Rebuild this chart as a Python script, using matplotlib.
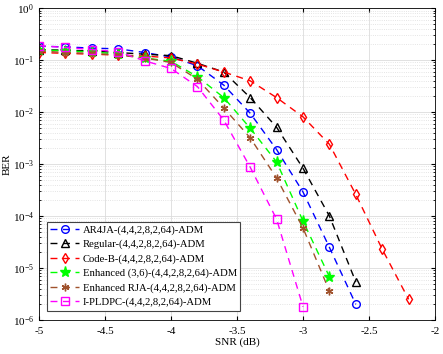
import numpy as np
import matplotlib
matplotlib.use("Agg")
import matplotlib.pyplot as plt
from matplotlib.ticker import NullFormatter

plt.rcParams["font.family"] = ["Liberation Serif", "DejaVu Serif"]
plt.rcParams["mathtext.fontset"] = "stix"
plt.rcParams["axes.unicode_minus"] = False

# SNR points (dB), step 0.2
snr = np.round(np.arange(-5.0, -2.19, 0.2), 1)

ar4ja = [0.185, 0.18, 0.17, 0.165, 0.14, 0.115, 0.078, 0.033, 0.0095, 0.0019, 2.9e-4, 2.5e-5, 2.0e-6]
regular = [0.16, 0.155, 0.15, 0.14, 0.13, 0.122, 0.087, 0.059, 0.019, 0.0051, 8.3e-4, 1.0e-4, 5.4e-6]
code_b = [0.14, 0.135, 0.13, 0.125, 0.12, 0.11, 0.084, 0.059, 0.04, 0.019, 0.0081, 0.0024, 2.6e-4, 2.3e-5, 2.5e-6]
enh36 = [0.16, 0.15, 0.145, 0.13, 0.11, 0.095, 0.048, 0.019, 0.0049, 0.0011, 8.0e-5, 6.8e-6]
enh_rja = [0.15, 0.14, 0.135, 0.125, 0.11, 0.09, 0.043, 0.012, 0.0032, 5.4e-4, 5.9e-5, 3.6e-6]
ipldpc = [0.19, 0.175, 0.16, 0.145, 0.097, 0.069, 0.031, 0.007, 8.7e-4, 8.7e-5, 1.8e-6]

series = [
    ("AR4JA-(4,4,2,8,2,64)-ADM", ar4ja, "blue", "o", "none"),
    ("Regular-(4,4,2,8,2,64)-ADM", regular, "black", "^", "none"),
    ("Code-B-(4,4,2,8,2,64)-ADM", code_b, "red", "d", "none"),
    ("Enhanced (3,6)-(4,4,2,8,2,64)-ADM", enh36, "#00ff00", "*", "#00ff00"),
    ("Enhanced RJA-(4,4,2,8,2,64)-ADM", enh_rja, "#a0522d", (6, 2, 0), "#a0522d"),
    ("I-PLDPC-(4,4,2,8,2,64)-ADM", ipldpc, "magenta", "s", "none"),
]

fig = plt.figure(figsize=(4.43, 3.54), dpi=100)
ax = fig.add_axes([0.088, 0.096, 0.894, 0.881])

for name, vals, col, mk, fc in series:
    ms = 8 if mk == "*" else 5.5
    ax.semilogy(snr[:len(vals)], vals, linestyle=(0, (5, 4)), color=col, marker=mk,
                markersize=ms, markerfacecolor=fc, markeredgecolor=col, linewidth=1,
                markeredgewidth=1, label=name)

ax.set_xlim(-5, -2)
ax.set_ylim(1e-6, 1)
ax.set_xticks([-5, -4.5, -4, -3.5, -3, -2.5, -2])
ax.set_xticklabels(["-5", "-4.5", "-4", "-3.5", "-3", "-2.5", "-2"])
ax.yaxis.set_minor_formatter(NullFormatter())
ax.grid(True, which="major", color="#dcdcdc", linewidth=0.6)
ax.grid(True, which="minor", color="#dcdcdc", linestyle=":", linewidth=0.6)
ax.tick_params(which="both", direction="in", top=True, right=True, labelsize=8)
ax.tick_params(axis="x", pad=5)
ax.tick_params(which="major", length=3)
ax.tick_params(which="minor", length=1.5)
for s in ax.spines.values():
    s.set_linewidth(0.6)
ax.set_xlabel("SNR (dB)", fontsize=8, labelpad=1)
ax.set_ylabel("BER", fontsize=8, labelpad=1)

leg = ax.legend(loc="lower left", fontsize=7.7, fancybox=False, edgecolor="#444444",
                framealpha=1, handlelength=2.7, borderpad=0.3, labelspacing=0.45,
                handletextpad=0.35, borderaxespad=0, bbox_to_anchor=(0.02, 0.03))
leg.get_frame().set_linewidth(0.8)

fig.savefig("out.png", dpi=100)
